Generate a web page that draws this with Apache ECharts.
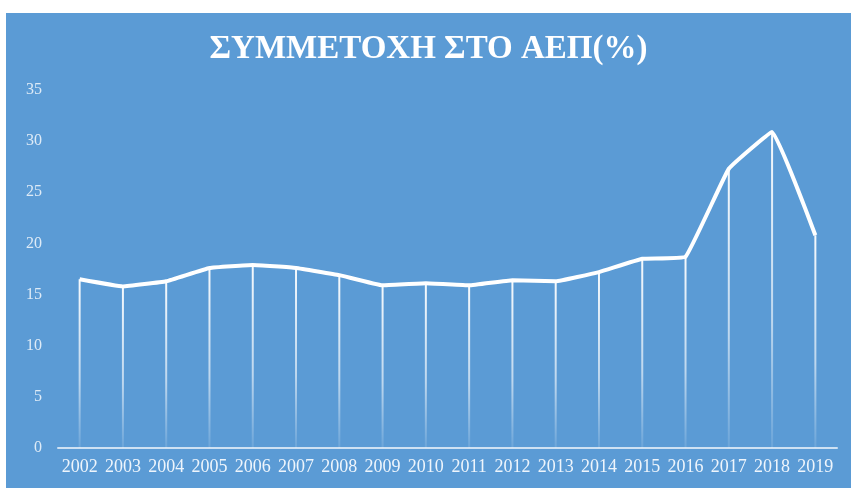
<!DOCTYPE html>
<html>
<head>
<meta charset="utf-8">
<script src="https://cdn.jsdelivr.net/npm/echarts@6/dist/echarts.min.js"></script>
<style>
html,body{margin:0;padding:0;background:#fff;width:851px;height:488px;overflow:hidden;}
#c{position:absolute;left:6px;top:13px;width:845px;height:475px;}
</style>
</head>
<body>
<div id="c"></div>
<script>
const years = ['2002','2003','2004','2005','2006','2007','2008','2009','2010','2011','2012','2013','2014','2015','2016','2017','2018','2019'];
const share = [16.5,15.8,16.3,17.6,17.9,17.6,16.9,15.9,16.1,15.9,16.4,16.3,17.2,18.5,18.7,27.3,30.9,20.8];
const yTicks = {min:0, max:35, interval:5};
const titleText = 'ΣΥΜΜΕΤΟΧΗ ΣΤΟ ΑΕΠ(%)';

const chart = echarts.init(document.getElementById('c'));
chart.setOption({
  backgroundColor:'#5b9bd5',
  animation:false,
  title:{
    text:titleText, left:'center', top:15,
    textStyle:{color:'#fff', fontFamily:'Liberation Serif', fontWeight:'bold', fontSize:33}
  },
  grid:{left:52, right:14, top:77, bottom:40},
  xAxis:{
    type:'category', data:years, boundaryGap:true,
    axisLine:{lineStyle:{color:'rgba(255,255,255,0.7)', width:2}},
    axisTick:{show:false},
    axisLabel:{interval:0, color:'#eef5fc', fontFamily:'Liberation Serif', fontSize:18, margin:10}
  },
  yAxis:{
    type:'value', min:yTicks.min, max:yTicks.max, interval:yTicks.interval,
    axisLine:{show:false}, axisTick:{show:false}, splitLine:{show:false},
    axisLabel:{color:'rgba(255,255,255,0.8)', fontFamily:'Liberation Serif', fontSize:16, margin:16}
  },
  series:[
    {
      type:'bar', data:share, barWidth:2, silent:true, z:1,
      itemStyle:{color:new echarts.graphic.LinearGradient(0,0,0,1,[
        {offset:0,color:'rgba(255,255,255,0.95)'},
        {offset:0.6,color:'rgba(255,255,255,0.6)'},
        {offset:1,color:'rgba(255,255,255,0.1)'}
      ])}
    },
    {
      type:'line', data:share, smooth:0.08, symbol:'none', z:3,
      lineStyle:{color:'#fff', width:4}
    }
  ]
});
</script>
</body>
</html>
